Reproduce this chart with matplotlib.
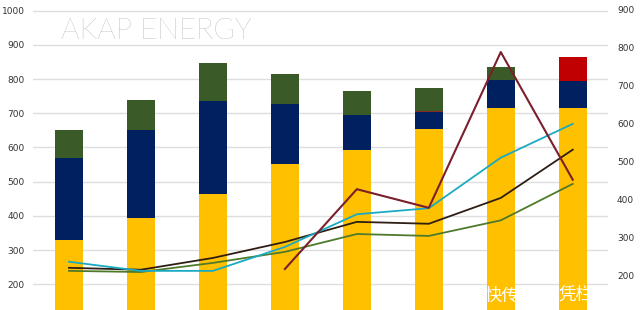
import matplotlib.pyplot as plt
import numpy as np

# stacked bars (left axis)
yellow = [330, 395, 465, 553, 592, 653, 714, 714]
navy = [238, 257, 270, 175, 102, 50, 82, 79]
red_small = [0, 0, 0, 0, 0, 5, 0, 0]
green = [82, 86, 113, 88, 70, 67, 38, 0]
red_top = [0, 0, 0, 0, 0, 0, 0, 70]

# lines (right axis)
cyan_line = [237, 213, 213, 276, 362, 378, 511, 600]
black_line = [221, 216, 247, 289, 342, 337, 405, 532]
olive_line = [213, 210, 234, 263, 310, 305, 346, 442]
maroon_x = [3, 4, 5, 6, 7]
maroon_line = [218, 428, 379, 789, 453]

left_ticks = [200, 300, 400, 500, 600, 700, 800, 900, 1000]
right_ticks = [200, 300, 400, 500, 600, 700, 800, 900]

fig = plt.figure(figsize=(6.4, 3.1), dpi=100)
fig.patch.set_facecolor('white')
ax = fig.add_axes([33 / 640, 0, 575 / 640, 1])
x = np.arange(len(yellow))
w = 0.39

bottom = np.zeros(len(x))
for vals, col in [(yellow, '#FFC000'), (navy, '#002060'), (red_small, '#8B2A1E'),
                  (green, '#3A5A27'), (red_top, '#C00000')]:
    ax.bar(x, vals, w, bottom=bottom, color=col, zorder=2)
    bottom += np.array(vals)

ax.set_xlim(-0.5, 7.49)
ax.set_ylim(125, 1031)
ax.set_yticks(left_ticks)
ax.set_xticks([])
ax.grid(axis='y', color='#dedede', linewidth=1, zorder=0)
ax.tick_params(axis='y', length=0, pad=6, labelsize=6.5, labelcolor='#333333')
for s in ax.spines.values():
    s.set_visible(False)

ax2 = ax.twinx()
ax2.set_ylim(110, 926)
ax2.set_yticks(right_ticks)
ax2.tick_params(axis='y', length=0, pad=6.5, labelsize=6.5, labelcolor='#333333')
for s in ax2.spines.values():
    s.set_visible(False)

ax2.plot(x, olive_line, color='#4F7A2C', lw=1.3, zorder=3)
ax2.plot(x, black_line, color='#2E1E14', lw=1.3, zorder=3)
ax2.plot(x, cyan_line, color='#1AAAC2', lw=1.3, zorder=3)
ax2.plot(maroon_x, maroon_line, color='#7A1F2B', lw=1.5, zorder=3)

fig.text(61 / 640, 1 - 39 / 310, 'AKAP ENERGY', fontsize=21, color='#a0a0a0',
         family='Lato', fontweight='light', va='baseline', ha='left')

# watermark, white text only visible over the bars
cjk = ['Noto Sans CJK SC', 'DejaVu Sans']
fig.text(485 / 640, 1 - 295 / 310, '快传号/', fontsize=12.5, color='white',
         family=cjk, va='center', ha='left', zorder=5)
fig.text(559 / 640, 1 - 295 / 310, '凭栏', fontsize=12.5, color='white',
         family=cjk, va='center', ha='left', zorder=5)

fig.savefig('out.png', dpi=100)
